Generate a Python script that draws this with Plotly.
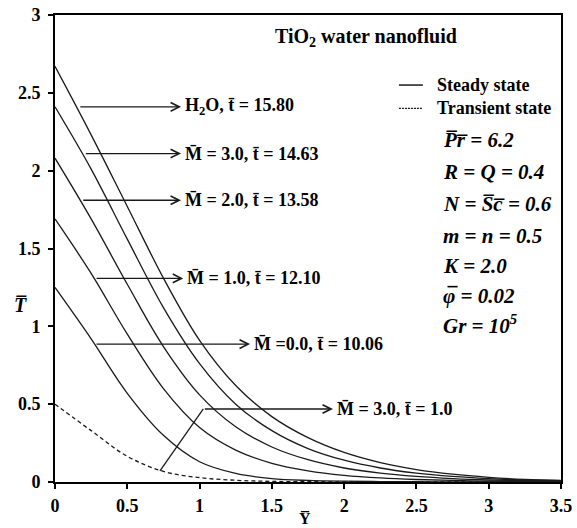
import plotly.graph_objects as go

# ---- data ----
Y_grid = [0, 0.25, 0.5, 0.75, 1.0, 1.25, 1.5, 1.75, 2.0, 2.25, 2.5, 2.75, 3.0, 3.25, 3.5]
T_h2o = [2.67, 2.23, 1.77, 1.31, 0.91, 0.62, 0.42, 0.285, 0.19, 0.125, 0.08, 0.05, 0.03, 0.017, 0.010]
T_m3 = [2.41, 2.01, 1.56, 1.12, 0.76, 0.50, 0.33, 0.215, 0.14, 0.09, 0.057, 0.036, 0.022, 0.013, 0.008]
T_m2 = [2.08, 1.69, 1.27, 0.87, 0.56, 0.355, 0.225, 0.143, 0.09, 0.057, 0.036, 0.022, 0.013, 0.008, 0.005]
T_m1 = [1.69, 1.34, 0.95, 0.60, 0.35, 0.205, 0.12, 0.072, 0.043, 0.026, 0.016, 0.010, 0.006, 0.004, 0.002]
T_m0 = [1.25, 0.92, 0.57, 0.30, 0.13, 0.055, 0.022, 0.010, 0.005, 0.003, 0.002, 0.001, 0.001, 0.0005, 0.0]
T_transient = [0.50, 0.33, 0.165, 0.068, 0.028, 0.011, 0.004, 0.002, 0.001, 0.0005, 0.0, 0.0, 0.0, 0.0, 0.0]

steady_series = [T_h2o, T_m3, T_m2, T_m1, T_m0]
curve_labels = ["H<sub>2</sub>O, t\u0304 = 15.80",
                "M\u0304 = 3.0, t\u0304 = 14.63",
                "M\u0304 = 2.0, t\u0304 = 13.58",
                "M\u0304 = 1.0, t\u0304 = 12.10",
                "M\u0304 =0.0, t\u0304 = 10.06"]
transient_label = "M\u0304 = 3.0, t\u0304 = 1.0"

x_ticks = [0, 0.5, 1, 1.5, 2, 2.5, 3, 3.5]
x_ticktext = ["0", "0.5", "1", "1.5", "2", "2.5", "3", "3.5"]
y_ticks = [0, 0.5, 1, 1.5, 2, 2.5, 3]
y_ticktext = ["0", "0.5", "1", "1.5", "2", "2.5", "3"]

param_lines = ["P\u0305r\u0305 = 6.2", "R = Q = 0.4", "N = S\u0305c\u0305 = 0.6", "m = n = 0.5",
               "K = 2.0", "\u03c6 = 0.02", "Gr = 10<sup>5</sup>"]

SERIF = "Liberation Serif"
LINE = "#1a1a1a"

fig = go.Figure()
for s in steady_series:
    fig.add_trace(go.Scatter(x=Y_grid, y=s, mode="lines",
                             line=dict(color=LINE, width=1.3, shape="spline", smoothing=1.0),
                             showlegend=False, hoverinfo="skip"))
fig.add_trace(go.Scatter(x=Y_grid, y=T_transient, mode="lines",
                         line=dict(color=LINE, width=1.3, dash="4px,3px", shape="spline", smoothing=1.0),
                         showlegend=False, hoverinfo="skip"))

ann = []
# arrows: (start x, y, tip x)
arrow_specs = [(0.165, 2.41, 0.872), (0.203, 2.11, 0.872), (0.185, 1.81, 0.872),
               (0.277, 1.308, 0.887), (0.277, 0.886, 1.349)]
for (sx, yy, tx), lab in zip(arrow_specs, curve_labels):
    ann.append(dict(x=tx, y=yy, ax=sx, ay=yy, xref="x", yref="y", axref="x", ayref="y",
                    text="", showarrow=True, arrowhead=5, arrowsize=1.3, arrowwidth=1.3,
                    arrowcolor=LINE, standoff=0, startstandoff=0))
    ann.append(dict(x=tx + 0.012, y=yy, xref="x", yref="y", text="<b>" + lab + "</b>",
                    showarrow=False, xanchor="left", yanchor="middle",
                    font=dict(family=SERIF, size=18, color="black")))
# bent leader for transient
ann.append(dict(x=1.923, y=0.469, ax=1.026, ay=0.469, xref="x", yref="y", axref="x", ayref="y",
                text="", showarrow=True, arrowhead=5, arrowsize=1.3, arrowwidth=1.3,
                arrowcolor=LINE, standoff=0, startstandoff=0))
ann.append(dict(x=1.935, y=0.469, xref="x", yref="y", text="<b>" + transient_label + "</b>",
                showarrow=False, xanchor="left", yanchor="middle",
                font=dict(family=SERIF, size=18, color="black")))
shapes = [dict(type="line", xref="x", yref="y", x0=0.726, y0=0.071, x1=1.026, y1=0.469,
               line=dict(color=LINE, width=1.3))]

# title
ann.append(dict(x=2.15, y=2.858, xref="x", yref="y", text="<b>TiO<sub>2</sub> water nanofluid</b>",
                showarrow=False, xanchor="center", yanchor="middle",
                font=dict(family=SERIF, size=20, color="black")))
# legend
shapes.append(dict(type="line", xref="x", yref="y", x0=2.379, x1=2.545, y0=2.55, y1=2.55,
                   line=dict(color=LINE, width=1.5)))
shapes.append(dict(type="line", xref="x", yref="y", x0=2.379, x1=2.545, y0=2.40, y1=2.40,
                   line=dict(color=LINE, width=1.2, dash="2px,1px")))
ann.append(dict(x=2.63, y=2.55, xref="x", yref="y", text="<b>Steady state</b>", showarrow=False,
                xanchor="left", yanchor="middle", font=dict(family=SERIF, size=18, color="black")))
ann.append(dict(x=2.63, y=2.40, xref="x", yref="y", text="<b>Transient state</b>", showarrow=False,
                xanchor="left", yanchor="middle", font=dict(family=SERIF, size=18, color="black")))
param_y = [2.197, 1.991, 1.785, 1.58, 1.387, 1.195, 1.015]
for txt, py in zip(param_lines, param_y):
    ann.append(dict(x=2.67, y=py, xref="x", yref="y", text="<b><i>" + txt + "</i></b>",
                    showarrow=False, xanchor="left", yanchor="middle",
                    font=dict(family=SERIF, size=21, color="black")))
# overbar on phi
shapes.append(dict(type="line", xref="x", yref="y", x0=2.715, x1=2.785, y0=1.255, y1=1.255,
                   line=dict(color="black", width=1.6)))
# axis titles (paper coordinates so they are not hidden outside the axis range)
ann.append(dict(x=-0.069, y=0.379, xref="paper", yref="paper", text="<b><i>T\u0305</i></b>",
                showarrow=False, xanchor="center", yanchor="middle",
                font=dict(family=SERIF, size=20, color="black")))
ann.append(dict(x=0.494, y=-0.078, xref="paper", yref="paper", text="<b>Y\u0305</b>",
                showarrow=False, xanchor="center", yanchor="middle",
                font=dict(family=SERIF, size=16, color="black")))

axis_common = dict(showline=True, linewidth=2, linecolor="black", mirror=True, showgrid=False,
                   zeroline=False, ticks="outside", ticklen=5, tickwidth=1.5, tickcolor="black",
                   automargin=False,
                   tickfont=dict(family=SERIF, size=18, color="black", weight="bold"))
fig.update_layout(
    width=577, height=528, margin=dict(l=55, r=16, t=15, b=46),
    plot_bgcolor="white", paper_bgcolor="white",
    xaxis=dict(range=[0, 3.5], tickvals=x_ticks, ticktext=x_ticktext, ticklabelstandoff=1, **axis_common),
    yaxis=dict(range=[0, 3], tickvals=y_ticks, ticktext=y_ticktext, ticklabelstandoff=4, **axis_common),
    annotations=ann, shapes=shapes, showlegend=False,
)
fig.write_html("out.html")
